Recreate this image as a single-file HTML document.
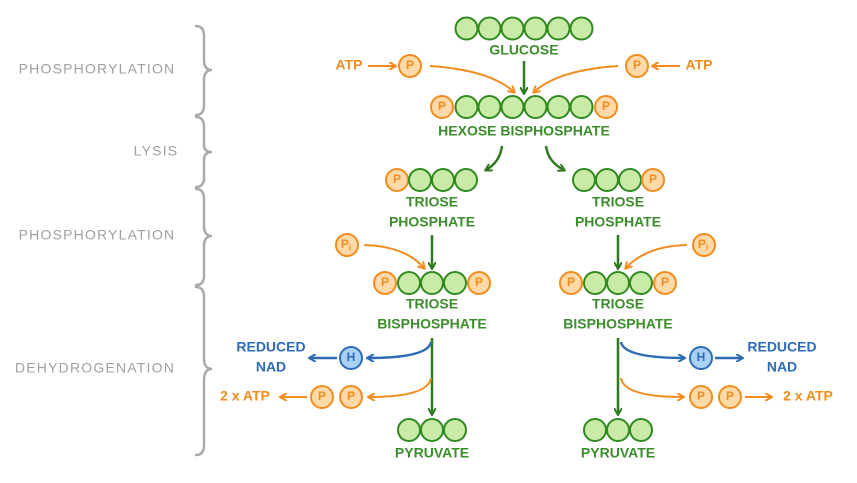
<!DOCTYPE html>
<html><head><meta charset="utf-8"><style>
body{margin:0;background:#fff}
svg{display:block}
text{font-family:"Liberation Sans",sans-serif;font-size:14px;text-anchor:middle;dominant-baseline:middle;font-weight:bold}
.g{fill:#3c8d2b}.o{fill:#f28c1c}.b{fill:#2d6cb5}.gr{fill:#a0a0a0;font-size:14px;font-weight:normal;letter-spacing:1.2px}
.gc{fill:#c9eba7;stroke:#2f8a1f;stroke-width:2}
.pc{fill:#ffd9a8;stroke:#f28c1c;stroke-width:2}
.hc{fill:#a9d0f5;stroke:#2d6cb5;stroke-width:2}
.pt{fill:#f28c1c;font-size:12px}
</style></head><body>
<svg width="857" height="483" viewBox="0 0 857 483">
<defs>
<marker id="ag" markerWidth="8" markerHeight="8" refX="6" refY="4" orient="auto" markerUnits="userSpaceOnUse"><path d="M0,0 L7,4 L0,8" fill="none" stroke="#2f7a1f" stroke-width="2"/></marker>
<marker id="ao" markerWidth="8" markerHeight="8" refX="6" refY="4" orient="auto" markerUnits="userSpaceOnUse"><path d="M0,0 L7,4 L0,8" fill="none" stroke="#f28c1c" stroke-width="2"/></marker>
<marker id="ab" markerWidth="8" markerHeight="8" refX="6" refY="4" orient="auto" markerUnits="userSpaceOnUse"><path d="M0,0 L7,4 L0,8" fill="none" stroke="#2d6cb5" stroke-width="2"/></marker>
</defs>
<g fill="none" stroke="#aaa" stroke-width="2.5" stroke-linecap="round">
<path d="M196,26 Q204,26 204,36 L204,60 Q204,70 212,70 Q204,70 204,80 L204,105 Q204,115 196,115"/>
<path d="M196,117 Q204,117 204,127 L204,145 Q204,152 212,152 Q204,152 204,160 L204,178 Q204,187 196,187"/>
<path d="M196,189 Q204,189 204,199 L204,226 Q204,236 212,236 Q204,236 204,246 L204,276 Q204,285 196,285"/>
<path d="M196,287 Q204,287 204,297 L204,358 Q204,369 212,369 Q204,369 204,380 L204,445 Q204,455 196,455"/>
</g>
<text class="gr" x="97" y="70">PHOSPHORYLATION</text>
<text class="gr" x="156" y="152">LYSIS</text>
<text class="gr" x="97" y="236">PHOSPHORYLATION</text>
<text class="gr" x="95" y="369">DEHYDROGENATION</text>

<g class="gc"><circle cx="466.5" cy="28.5" r="11"/><circle cx="489.5" cy="28.5" r="11"/><circle cx="512.5" cy="28.5" r="11"/><circle cx="535.5" cy="28.5" r="11"/><circle cx="558.5" cy="28.5" r="11"/><circle cx="581.5" cy="28.5" r="11"/></g>
<text class="g" x="524" y="51">GLUCOSE</text>
<line x1="524" y1="61" x2="524" y2="93" stroke="#2f7a1f" stroke-width="2.5" marker-end="url(#ag)"/>
<text class="o" x="349" y="66">ATP</text>
<line x1="368" y1="66" x2="395" y2="66" stroke="#f28c1c" stroke-width="2" marker-end="url(#ao)"/>
<circle class="pc" cx="410" cy="66" r="11"/><text class="pt" x="410" y="66">P</text>
<path d="M430,66 Q490,70 514,92" fill="none" stroke="#f28c1c" stroke-width="2" marker-end="url(#ao)"/>
<circle class="pc" cx="637" cy="66" r="11"/><text class="pt" x="637" y="66">P</text>
<line x1="680" y1="66" x2="653" y2="66" stroke="#f28c1c" stroke-width="2" marker-end="url(#ao)"/>
<text class="o" x="699" y="66">ATP</text>
<path d="M618,66 Q558,70 534,92" fill="none" stroke="#f28c1c" stroke-width="2" marker-end="url(#ao)"/>

<circle class="pc" cx="442" cy="107" r="11"/><text class="pt" x="442" y="107">P</text>
<g class="gc"><circle cx="466.5" cy="107" r="11"/><circle cx="489.5" cy="107" r="11"/><circle cx="512.5" cy="107" r="11"/><circle cx="535.5" cy="107" r="11"/><circle cx="558.5" cy="107" r="11"/><circle cx="581.5" cy="107" r="11"/></g>
<circle class="pc" cx="606" cy="107" r="11"/><text class="pt" x="606" y="107">P</text>
<text class="g" x="524" y="132">HEXOSE BISPHOSPHATE</text>
<path d="M502,146 Q500,162 486,170" fill="none" stroke="#2f7a1f" stroke-width="2.5" marker-end="url(#ag)"/>
<path d="M546,146 Q548,162 564,170" fill="none" stroke="#2f7a1f" stroke-width="2.5" marker-end="url(#ag)"/>

<circle class="pc" cx="397" cy="180" r="11"/><text class="pt" x="397" y="180">P</text>
<g class="gc"><circle cx="420" cy="180" r="11"/><circle cx="443" cy="180" r="11"/><circle cx="466" cy="180" r="11"/></g>
<text class="g" x="432" y="203">TRIOSE</text><text class="g" x="432" y="223">PHOSPHATE</text>
<g class="gc"><circle cx="584" cy="180" r="11"/><circle cx="607" cy="180" r="11"/><circle cx="630" cy="180" r="11"/></g>
<circle class="pc" cx="653" cy="180" r="11"/><text class="pt" x="653" y="180">P</text>
<text class="g" x="618" y="203">TRIOSE</text><text class="g" x="618" y="223">PHOSPHATE</text>

<line x1="432" y1="235" x2="432" y2="268" stroke="#2f7a1f" stroke-width="2.5" marker-end="url(#ag)"/>
<line x1="618" y1="235" x2="618" y2="268" stroke="#2f7a1f" stroke-width="2.5" marker-end="url(#ag)"/>
<circle class="pc" cx="347" cy="245" r="11"/><text class="pt" x="346" y="245">P<tspan font-size="8" dy="3">i</tspan></text>
<path d="M364,245 Q405,246 424,268" fill="none" stroke="#f28c1c" stroke-width="2" marker-end="url(#ao)"/>
<circle class="pc" cx="704" cy="245" r="11"/><text class="pt" x="703" y="245">P<tspan font-size="8" dy="3">i</tspan></text>
<path d="M687,245 Q646,246 626,268" fill="none" stroke="#f28c1c" stroke-width="2" marker-end="url(#ao)"/>

<circle class="pc" cx="385" cy="283" r="11"/><text class="pt" x="385" y="283">P</text>
<g class="gc"><circle cx="409" cy="283" r="11"/><circle cx="432" cy="283" r="11"/><circle cx="455" cy="283" r="11"/></g>
<circle class="pc" cx="479" cy="283" r="11"/><text class="pt" x="479" y="283">P</text>
<text class="g" x="432" y="305">TRIOSE</text><text class="g" x="432" y="325">BISPHOSPHATE</text>
<circle class="pc" cx="571" cy="283" r="11"/><text class="pt" x="571" y="283">P</text>
<g class="gc"><circle cx="595" cy="283" r="11"/><circle cx="618" cy="283" r="11"/><circle cx="641" cy="283" r="11"/></g>
<circle class="pc" cx="665" cy="283" r="11"/><text class="pt" x="665" y="283">P</text>
<text class="g" x="618" y="305">TRIOSE</text><text class="g" x="618" y="325">BISPHOSPHATE</text>

<line x1="432" y1="338" x2="432" y2="414" stroke="#2f7a1f" stroke-width="2.5" marker-end="url(#ag)"/>
<path d="M431,342 Q428,358 368,358" fill="none" stroke="#2d6cb5" stroke-width="2.5" marker-end="url(#ab)"/>
<circle class="hc" cx="351" cy="358" r="11"/><text x="351" y="358" style="fill:#2d6cb5;font-size:12px">H</text>
<line x1="337" y1="358" x2="310" y2="358" stroke="#2d6cb5" stroke-width="2.5" marker-end="url(#ab)"/>
<text class="b" x="271" y="348">REDUCED</text><text class="b" x="271" y="368">NAD</text>
<path d="M431,378 Q428,397 369,397" fill="none" stroke="#f28c1c" stroke-width="2" marker-end="url(#ao)"/>
<circle class="pc" cx="351" cy="397" r="11"/><text class="pt" x="351" y="397">P</text>
<circle class="pc" cx="322" cy="397" r="11"/><text class="pt" x="322" y="397">P</text>
<line x1="307" y1="397" x2="281" y2="397" stroke="#f28c1c" stroke-width="2" marker-end="url(#ao)"/>
<text class="o" x="245" y="397">2 x ATP</text>
<g class="gc"><circle cx="409" cy="430" r="11"/><circle cx="432" cy="430" r="11"/><circle cx="455" cy="430" r="11"/></g>
<text class="g" x="432" y="454">PYRUVATE</text>

<line x1="618" y1="338" x2="618" y2="414" stroke="#2f7a1f" stroke-width="2.5" marker-end="url(#ag)"/>
<path d="M621,342 Q624,358 684,358" fill="none" stroke="#2d6cb5" stroke-width="2.5" marker-end="url(#ab)"/>
<circle class="hc" cx="701" cy="358" r="11"/><text x="701" y="358" style="fill:#2d6cb5;font-size:12px">H</text>
<line x1="715" y1="358" x2="742" y2="358" stroke="#2d6cb5" stroke-width="2.5" marker-end="url(#ab)"/>
<text class="b" x="782" y="348">REDUCED</text><text class="b" x="782" y="368">NAD</text>
<path d="M621,378 Q624,397 683,397" fill="none" stroke="#f28c1c" stroke-width="2" marker-end="url(#ao)"/>
<circle class="pc" cx="701" cy="397" r="11"/><text class="pt" x="701" y="397">P</text>
<circle class="pc" cx="730" cy="397" r="11"/><text class="pt" x="730" y="397">P</text>
<line x1="745" y1="397" x2="771" y2="397" stroke="#f28c1c" stroke-width="2" marker-end="url(#ao)"/>
<text class="o" x="808" y="397">2 x ATP</text>
<g class="gc"><circle cx="595" cy="430" r="11"/><circle cx="618" cy="430" r="11"/><circle cx="641" cy="430" r="11"/></g>
<text class="g" x="618" y="454">PYRUVATE</text>
</svg>
</body></html>
